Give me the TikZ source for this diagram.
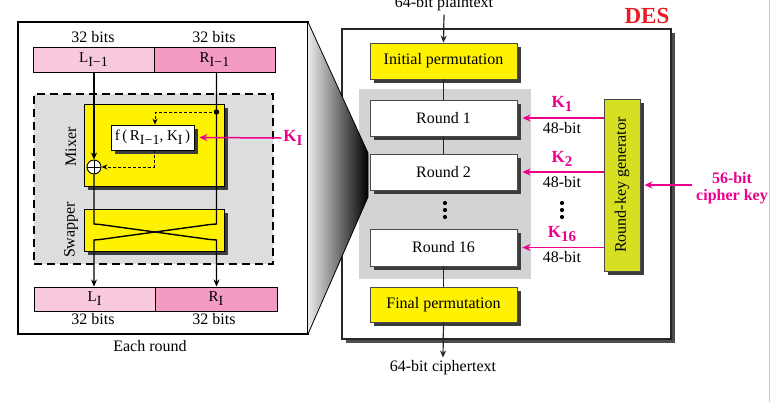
\documentclass[tikz,border=0pt]{standalone}
\usepackage{fontspec}
\setmainfont{Liberation Serif}
\usetikzlibrary{arrows.meta,shadows,calc}
\definecolor{pinkL}{HTML}{F8C9DC}
\definecolor{pinkR}{HTML}{F39BC2}
\definecolor{ylw}{HTML}{FFF200}
\definecolor{rkgc}{HTML}{D7DF23}
\definecolor{greyreg}{HTML}{D1D3D4}
\definecolor{dashreg}{HTML}{DCDDDE}
\definecolor{mag}{HTML}{EC008C}
\definecolor{desred}{HTML}{ED1C24}
\definecolor{shadowc}{HTML}{3C3C3C}
\definecolor{boxline}{HTML}{4A4A4A}
\newcommand{\lr}[2]{{\fontsize{15}{15}\selectfont #1\raisebox{-4pt}{\fontsize{14}{14}\selectfont #2}}}
\newcommand{\kk}[1]{{\bfseries\fontsize{17}{17}\selectfont K\raisebox{-4pt}{\fontsize{15}{15}\selectfont #1}}}
\tikzset{
  lbl/.style={font=\fontsize{16}{17}\selectfont, inner sep=0pt, align=center},
  halfbox/.style={draw, line width=1pt, minimum height=25pt, minimum width=121pt, inner sep=0pt},
  shadowed/.style={drop shadow={shadow xshift=4pt, shadow yshift=-4pt, fill=shadowc, opacity=1}},
  desbox/.style={draw=boxline, line width=0.8pt, minimum width=147pt, minimum height=36pt, inner sep=0pt, font=\fontsize{16}{17}\selectfont, shadowed},
  arr/.style={-{Stealth[length=7pt,width=6pt]}, line width=1.4pt},
  darr/.style={-{Stealth[length=7pt,width=6pt]}, line width=1.2pt, draw=black!85},
  dasharr/.style={-{Stealth[length=6pt,width=5pt]}, line width=1pt, dash pattern=on 3pt off 2pt},
  keyarr/.style={draw=mag, line width=1.5pt, -{Stealth[length=8pt,width=7pt]}},
  keylbl/.style={inner sep=0pt, text=mag},
}
\begin{document}
\begin{tikzpicture}[x=1pt,y=-1pt]
\useasboundingbox (0,0) rectangle (774,402);
\fill[white] (0,0) rectangle (774,402);
\draw[color=black!22, line width=1pt] (769.5,0) -- (769.5,402);

% ---------------- left panel: each round ----------------
\node[draw, line width=1.2pt, fill=white, minimum width=290pt, minimum height=312pt, inner sep=0pt] (outer) at (163,178) {};
\node[lbl] (bitsA) at (93,37) {32 bits};
\node[lbl] (bitsB) at (214,37) {32 bits};
\node[halfbox, fill=pinkL] (Lp) at (93.5,59.5) {\lr{L}{I−1}};
\node[halfbox, fill=pinkR] (Rp) at (214.5,59.5) {\lr{R}{I−1}};

\node[draw, line width=1.5pt, dash pattern=on 8pt off 5pt, fill=dashreg, minimum width=239pt, minimum height=170pt, inner sep=0pt] (region) at (153.5,179) {};
\node[draw, line width=0.8pt, fill=ylw, shadowed, minimum width=140pt, minimum height=82pt, inner sep=0pt] (mixer) at (154,145) {};
\node[draw, line width=0.8pt, fill=ylw, shadowed, minimum width=140pt, minimum height=42pt, inner sep=0pt] (swapper) at (154,230) {};
\node[lbl, rotate=90] (mixl) at (71,147) {Mixer};
\node[lbl, rotate=90] (swapl) at (71,230) {Swapper};

\node[draw, line width=0.8pt, fill=white, shadowed, minimum width=83pt, minimum height=25pt, inner sep=0pt] (f) at (152.5,137.5)
  {{\fontsize{15}{15}\selectfont f\,(\,R\raisebox{-4pt}{\fontsize{14}{14}\selectfont I−1}, K\raisebox{-4pt}{\fontsize{14}{14}\selectfont I}\,)}};

\node[circle, draw, line width=0.9pt, fill=white, minimum size=14pt, inner sep=0pt,
  path picture={\draw[line width=0.9pt] (path picture bounding box.north) -- (path picture bounding box.south)
  (path picture bounding box.west) -- (path picture bounding box.east);}] (xor) at (94,167) {};
\node[circle, fill, inner sep=0pt, minimum size=5.5pt] (dot) at (216.5,112) {};

\node[halfbox, fill=pinkL, minimum height=24pt] (LI) at (94.5,299) {\lr{L}{I}};
\node[halfbox, fill=pinkR, minimum height=24pt, minimum width=122pt] (RI) at (216,299) {\lr{R}{I}};
\node[lbl] (bitsC) at (93,319) {32 bits};
\node[lbl] (bitsD) at (214,319) {32 bits};
\node[lbl] (each) at (150,346) {Each round};

\draw[arr] (Lp.south -| xor) -- (xor.north);
\draw[arr] (Rp.south -| dot) -- (216.5,224) -- (210,224.5) -- (100,239.5) -- (94,240) -- (LI.north -| xor);
\draw[arr] (xor.south) -- (94,224) -- (100,224.5) -- (210,239.5) -- (216.5,240) -- (RI.north -| dot);
\draw[dasharr] (dot.center) -| ([xshift=2.5pt]f.north);
\draw[dasharr] ([xshift=1.5pt]f.south) |- (xor.east);

\node[keylbl] (KI) at (293,138) {\kk{I}};
\draw[keyarr] ([xshift=-2pt]KI.west) -- ([xshift=5pt]f.east);

% ---------------- DES ----------------
\node[draw=black!85, line width=1.3pt, fill=white, minimum width=329pt, minimum height=310pt, inner sep=0pt,
  drop shadow={shadow xshift=4pt, shadow yshift=-4pt, fill=black!70, opacity=1}] (des) at (506.5,184) {};
\node[fill=greyreg, minimum width=172pt, minimum height=190pt, inner sep=0pt] (rounds) at (445,184) {};

% zoom wedge
\shade[left color=black!8, right color=black] (308,22) -- (368,153) -- (368,197) -- (308,334) -- cycle;
\draw[line width=0.8pt] (308,22) -- (368,153) -- (368,197) -- (308,334);

\node[desbox, fill=ylw] (ip) at (443.5,61) {Initial permutation};
\node[desbox, fill=white] (r1) at (443.5,118) {Round 1};
\node[desbox, fill=white] (r2) at (443.5,172) {Round 2};
\node[desbox, fill=white, minimum height=37pt] (r16) at (443.5,247.5) {Round 16};
\node[desbox, fill=ylw, minimum height=35pt] (fp) at (443.5,304.5) {Final permutation};

\foreach \yy in {203,210,217} {
  \fill (445,\yy) circle (2.1pt);
  \fill (562,\yy) circle (2.1pt);
}

\node[lbl, anchor=base] (pt) at (444,7) {64-bit plaintext};
\node[lbl] (ct) at (443,368) {64-bit ciphertext};
\draw[darr] (pt.south) ++(0,4) -- (ip.north);
\draw[line width=1.2pt, draw=black!85] (ip) -- (r1);
\draw[line width=1.2pt, draw=black!85] (r1) -- (r2);
\draw[line width=1.2pt, draw=black!85] (r16) -- (fp);
\draw[darr] (fp.south) -- ([yshift=3pt]ct.north);

\node[draw=boxline, line width=0.8pt, fill=rkgc, shadowed, minimum width=36pt, minimum height=172pt, inner sep=0pt] (rkg) at (622,185) {};
\node[lbl, rotate=90] (rkgl) at (rkg.center) {Round-key generator};

\draw[keyarr] (rkg.west |- r1.east) -- ([xshift=5pt]r1.east);
\draw[keyarr] (rkg.west |- r2.east) -- ([xshift=5pt]r2.east);
\draw[keyarr] (rkg.west |- r16.east) -- ([xshift=5pt]r16.east);
\node[keylbl] (k1) at (562,104) {\kk{1}};
\node[keylbl] (k2) at (562,159) {\kk{2}};
\node[keylbl] (k16) at (562,234) {\kk{16}};
\node[lbl] (w1) at (562,128) {48-bit};
\node[lbl] (w2) at (562,182) {48-bit};
\node[lbl] (w16) at (562,257) {48-bit};

\node[keylbl, align=center, font=\bfseries\fontsize{16}{17}\selectfont] (ck) at (732,188) {56-bit\\cipher key};
\draw[keyarr] ($(ck.west |- rkg.east)+(-4,0)$) -- ([xshift=4pt]rkg.east);

\node[inner sep=0pt, text=desred, font=\bfseries\fontsize{23}{23}\selectfont] (deslbl) at (647,16) {DES};
\end{tikzpicture}
\end{document}
